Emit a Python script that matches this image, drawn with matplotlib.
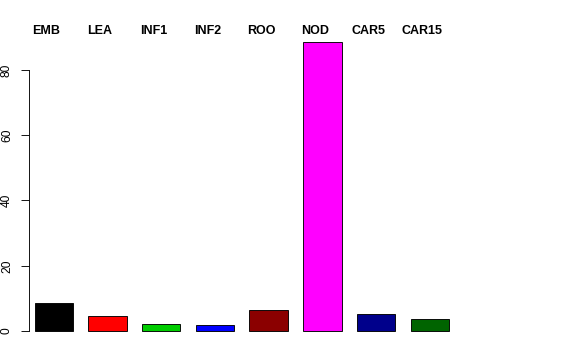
import matplotlib
matplotlib.use('Agg')
import matplotlib.pyplot as plt

# tissue labels and values
tissues = ['EMB', 'LEA', 'INF1', 'INF2', 'ROO', 'NOD', 'CAR5', 'CAR15']
values = [8.7, 4.7, 2.3, 1.8, 6.4, 88.4, 5.3, 3.6]
colors = ['black', 'red', '#00CD00', 'blue', '#8B0000', 'magenta', '#00008B', '#006400']
yticks = [0, 20, 40, 60, 80]

plt.rcParams['font.family'] = ['Liberation Sans', 'DejaVu Sans']

fig = plt.figure(figsize=(8, 5), dpi=72)
W, H = 576.0, 360.0
# plot region in pixels (R style)
left, right, top, bottom = 29, 547, 31, 342.5
ax = fig.add_axes([left / W, 1 - bottom / H, (right - left) / W, (bottom - top) / H])

x = list(range(len(tissues)))
ax.bar(x, values, width=0.714, color=colors, edgecolor='black', linewidth=0.9)

ax.set_xlim((left - 53.85) / 53.7, (right - 53.85) / 53.7)
ax.set_ylim(-3.5, 91.9)

# labels across the top
for xi, name in zip(x, tissues):
    ax.text(xi - 0.14, 1.0, name, transform=ax.get_xaxis_transform(),
            ha='center', va='center', fontsize=12.5, fontweight='bold')

for s in ['top', 'right', 'bottom']:
    ax.spines[s].set_visible(False)
ax.spines['left'].set_bounds(0, 80)
ax.spines['left'].set_linewidth(0.9)
ax.set_xticks([])
ax.set_yticks(yticks)
ax.set_yticklabels([str(t) for t in yticks], rotation=90, va='center', fontsize=12)
ax.tick_params(axis='y', length=8, width=0.9, pad=8)

fig.savefig('out.png', dpi=72)
